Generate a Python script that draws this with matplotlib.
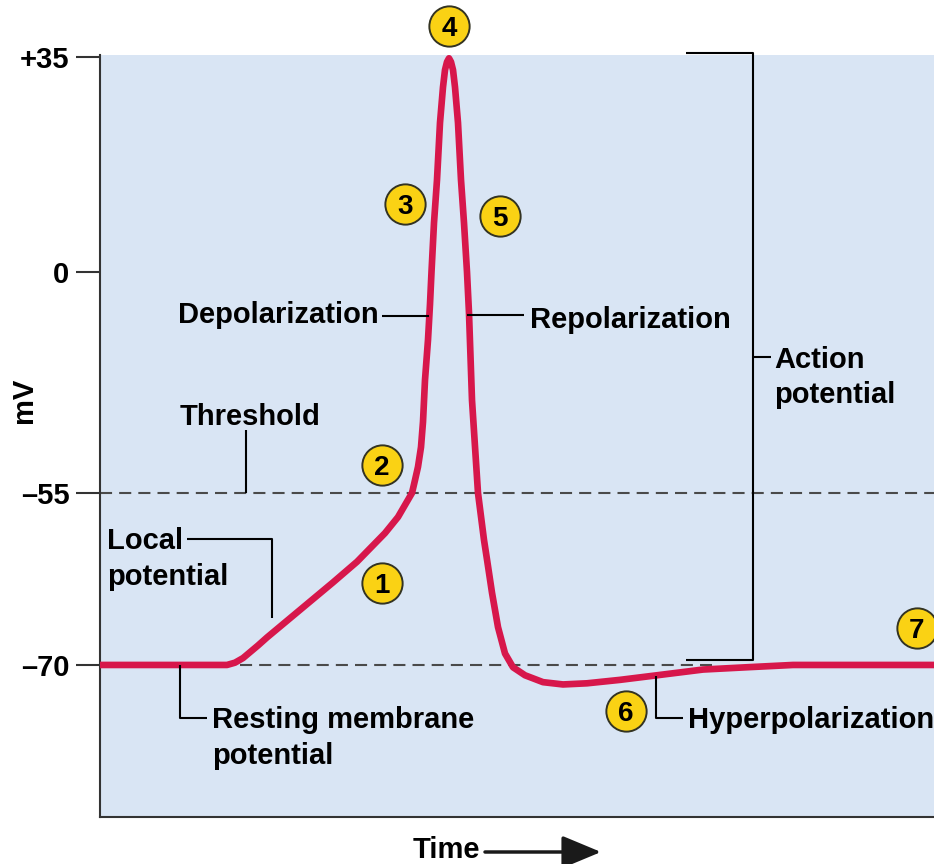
import numpy as np
import matplotlib
matplotlib.use("Agg")
import matplotlib.pyplot as plt
from matplotlib.lines import Line2D

plt.rcParams['font.family'] = ['Liberation Sans', 'DejaVu Sans']
plt.rcParams['font.weight'] = 'bold'

W, H = 934, 864

# membrane potential trace, time in arbitrary units
time = [0, 127, 135, 143, 158, 167, 200, 233, 257, 285, 298, 312, 315, 318, 321, 323,
        325, 328, 330, 331.5, 334, 337, 340, 343, 345, 347, 349, 351, 353, 355, 358, 361,
        364, 367, 369, 372, 378, 384, 387, 392, 398, 405, 413, 425, 443, 463, 487, 520,
        557, 603, 647, 693, 834]
mv = [-70, -70, -69.8, -69.4, -68.3, -67.6, -65.2, -62.8, -61.0, -58.5, -57.1, -55.0,
      -51.8, -48.5, -43.6, -37.3, -26.9, -16.9, -8.0, 0, 8.0, 15.0, 24.3, 30.1, 32.9,
      34.2, 34.8, 34.2, 32.9, 30.1, 24.3, 15.0, 8.0, 0, -10.2, -31.9, -55.0, -59.1,
      -60.8, -63.7, -66.7, -69.0, -70.2, -70.9, -71.5, -71.7, -71.6, -71.3, -70.9,
      -70.4, -70.2, -70.0, -70.0]

tick_mv = [35, 0, -55, -70]
tick_labels = ['+35', '0', '\u201355', '\u201370']
threshold = -55
resting = -70

# the printed axis is not linear in mV: piecewise scale between the labelled ticks
mv_k = np.array([-150, -70, -55, 0, 35, 100])
h_k = np.array([-718.4, 199, 371, 592, 807, 1206.3])


def fwd(v):
    return np.interp(v, mv_k, h_k)


def inv(h):
    return np.interp(h, h_k, mv_k)


def fp(x, y):
    # image pixel (top-left origin) -> figure fraction
    return x / W, 1 - y / H


fig = plt.figure(figsize=(W / 100, H / 100), dpi=100)
ax = fig.add_axes([100 / W, 47 / H, 834 / W, 762 / H])
ax.set_facecolor('#d9e5f4')
ax.set_yscale('function', functions=(fwd, inv))
ax.set_ylim(-83.26, 35.33)
ax.set_xlim(0, 834)

ax.axhline(threshold, color='#4a4a4a', lw=1.5, dashes=(5.8, 3.4), zorder=2)
ax.hlines(resting, 140, 612, color='#4a4a4a', lw=1.5, linestyles=(0, (5.8, 3.4)), zorder=2)
ax.plot(time, mv, color='#d7174b', lw=4.8, solid_joinstyle='round',
        solid_capstyle='butt', zorder=3)

ax.set_xticks([])
ax.set_yticks(tick_mv)
ax.set_yticklabels(tick_labels, fontsize=21, fontweight='bold')
ax.tick_params(axis='y', length=17, width=1.5, color='#333333', pad=5)
for s in ['top', 'right']:
    ax.spines[s].set_visible(False)
for s in ['left', 'bottom']:
    ax.spines[s].set_color('#333333')
    ax.spines[s].set_linewidth(1.5)

fs = 21


def label(x, y, s):
    fig.text(*fp(x, y), s, fontsize=fs, fontweight='bold', ha='left', va='baseline')


def leader(xs, ys):
    fx = [x / W for x in xs]
    fy = [1 - y / H for y in ys]
    fig.add_artist(Line2D(fx, fy, color='black', lw=1.5, solid_capstyle='butt'))


fig.text(*fp(24, 400), 'mV', fontsize=fs, fontweight='bold', rotation=90,
         ha='center', va='center')

label(178, 323, 'Depolarization')
leader([382, 429], [316, 316])
label(530, 328, 'Repolarization')
leader([467, 524], [315, 315])
label(180, 425, 'Threshold')
leader([246, 246], [430, 493])
label(107, 549, 'Local')
label(107, 585, 'potential')
leader([187, 272, 272], [539, 539, 618])
label(212, 728, 'Resting membrane')
label(212, 764, 'potential')
leader([180, 180, 207], [665, 718, 718])
label(688, 728, 'Hyperpolarization')
leader([656, 656, 683], [676, 718, 718])
label(774, 368, 'Action')
label(774, 403, 'potential')
leader([686, 753, 753, 686], [53, 53, 660, 660])
leader([753, 771], [357, 357])

label(413, 858, 'Time')
ax.annotate('', xy=(601, H - 852), xytext=(485, H - 852), xycoords='figure pixels',
            arrowprops=dict(arrowstyle='-|>,head_length=1.2,head_width=0.5',
                            mutation_scale=20, lw=2.5, color='#1a1a1a',
                            shrinkA=0, shrinkB=0))

# numbered markers
nums = ['1', '2', '3', '4', '5', '6', '7']
cx = [382, 382, 405, 449, 500, 626, 917]
cy = [583, 465, 204, 26, 216, 711, 628]
for n, x, y in zip(nums, cx, cy):
    fx, fy = fp(x, y)
    fig.add_artist(Line2D([fx], [fy], marker='o', ms=29, mfc='#fad214', mec='#333322',
                          mew=1.4, zorder=5))
    fig.text(*fp(x, y + 10), n, fontsize=20, fontweight='bold', ha='center',
             va='baseline', zorder=6)

fig.savefig('out.png', dpi=100)
